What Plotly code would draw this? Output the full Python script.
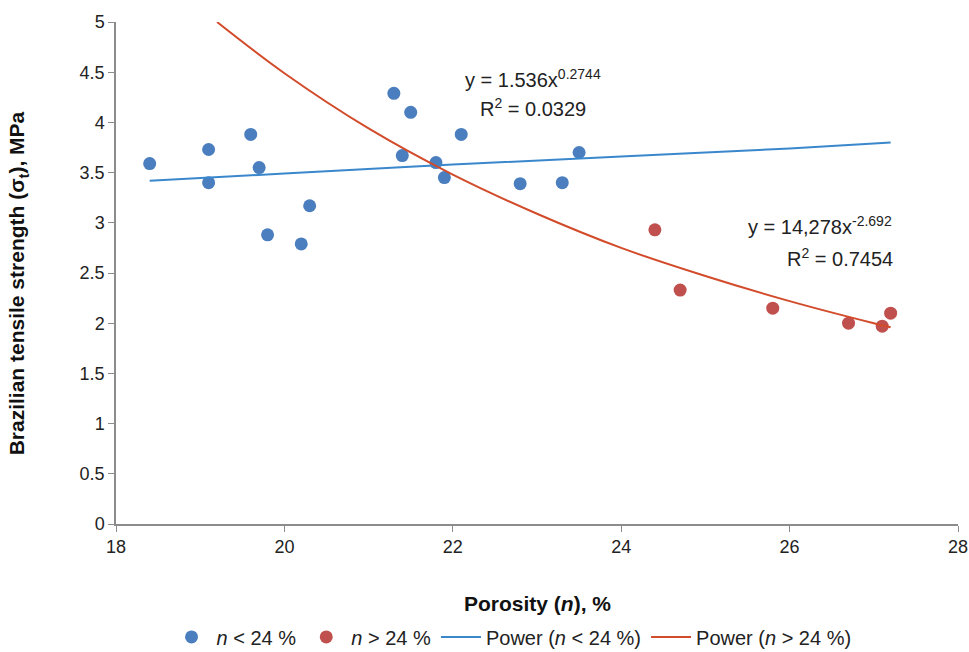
import plotly.graph_objects as go

# Scatter data (porosity %, tensile strength MPa)
blue_x = [18.4, 19.1, 19.1, 19.6, 19.7, 19.8, 20.2, 20.3, 21.3, 21.4, 21.5, 21.8, 21.9, 22.1, 22.8, 23.3, 23.5]
blue_y = [3.59, 3.73, 3.40, 3.88, 3.55, 2.88, 2.79, 3.17, 4.29, 3.67, 4.10, 3.60, 3.45, 3.88, 3.39, 3.40, 3.70]
red_x = [24.4, 24.7, 25.8, 26.7, 27.1, 27.2]
red_y = [2.93, 2.33, 2.15, 2.00, 1.97, 2.10]

# Trendlines
blue_fit_x = [18.4, 20.0, 22.0, 24.0, 26.0, 27.2]
blue_fit_y = [3.42, 3.49, 3.58, 3.66, 3.74, 3.80]
red_fit_x = [19.2, 20.0, 21.0, 22.0, 23.0, 24.0, 25.0, 26.0, 27.0, 27.2]
red_fit_y = [5.00, 4.49, 3.94, 3.48, 3.09, 2.75, 2.47, 2.22, 2.00, 1.96]

x_ticks = [18, 20, 22, 24, 26, 28]
y_ticks = [0, 0.5, 1, 1.5, 2, 2.5, 3, 3.5, 4, 4.5, 5]

FONT = "Liberation Sans, Arial, sans-serif"
BLUE = "#4a7ebf"
RED = "#c0504d"

fig = go.Figure()
fig.add_trace(go.Scatter(x=blue_x, y=blue_y, mode="markers", name="<i>n</i> < 24 %",
                         marker=dict(color=BLUE, size=13)))
fig.add_trace(go.Scatter(x=red_x, y=red_y, mode="markers", name="<i>n</i> > 24 %",
                         marker=dict(color=RED, size=13)))
fig.add_trace(go.Scatter(x=blue_fit_x, y=blue_fit_y, mode="lines", name="Power (<i>n</i> < 24 %)",
                         line=dict(color="#3a87cc", width=2, shape="spline")))
fig.add_trace(go.Scatter(x=red_fit_x, y=red_fit_y, mode="lines", name="Power (<i>n</i> > 24 %)",
                         line=dict(color="#d24b2a", width=2, shape="spline")))

axis_common = dict(showgrid=False, zeroline=False, showline=True, linecolor="#8c8c8c", linewidth=1.5,
                   ticks="outside", tickcolor="#8c8c8c", ticklen=6, automargin=False,
                   tickfont=dict(family=FONT, size=18, color="#222"))

fig.update_xaxes(range=[18, 28], tickvals=x_ticks, ticktext=[str(v) for v in x_ticks], **axis_common)
fig.update_yaxes(range=[0, 5], tickvals=y_ticks, ticktext=[f"{v:g}" for v in y_ticks], **axis_common)

ann_font = dict(family=FONT, size=20, color="#222")
annotations = [
    dict(x=22.95, y=4.44, text="y = 1.536x<sup>0.2744</sup>", showarrow=False, font=ann_font),
    dict(x=22.95, y=4.15, text="R<sup>2</sup> = 0.0329", showarrow=False, font=ann_font),
    dict(x=26.36, y=2.97, text="y = 14,278x<sup>-2.692</sup>", showarrow=False, font=ann_font),
    dict(x=26.6, y=2.65, text="R<sup>2</sup> = 0.7454", showarrow=False, font=ann_font),
    dict(xref="paper", yref="paper", x=0.5, y=-0.159, text="<b>Porosity (<i>n</i>), %</b>",
         showarrow=False, font=dict(family=FONT, size=21, color="#111"), yanchor="middle"),
    dict(xref="paper", yref="paper", x=-0.116, y=0.48, textangle=-90,
         text="<b>Brazilian tensile strength (σ<sub>t</sub>), MPa</b>",
         showarrow=False, font=dict(family=FONT, size=21, color="#111"), xanchor="center"),
]

fig.update_layout(
    width=969, height=652,
    margin=dict(l=116, r=11, t=22, b=128, autoexpand=False),
    paper_bgcolor="white", plot_bgcolor="white",
    annotations=annotations,
    showlegend=True,
    legend=dict(orientation="h", x=0.06, y=-0.225, xanchor="left", yanchor="middle",
                font=dict(family=FONT, size=20, color="#222"), itemwidth=40,
                bgcolor="rgba(0,0,0,0)"),
)

fig.write_html("out.html", config={"displayModeBar": False},
               post_script="document.body.style.margin='0';document.body.style.overflow='hidden';")
